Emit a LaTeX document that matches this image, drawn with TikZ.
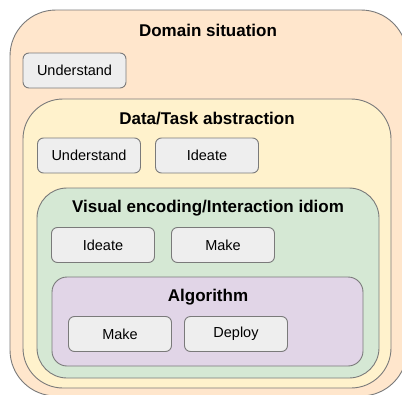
\documentclass[tikz,border=0pt]{standalone}
\usepackage{fontspec}
\setmainfont{Liberation Sans}
\definecolor{peach}{HTML}{FFE6CC}
\definecolor{lyellow}{HTML}{FFF2CC}
\definecolor{lgreen}{HTML}{D5E8D4}
\definecolor{lpurple}{HTML}{E1D5E7}
\definecolor{boxfill}{HTML}{EEEEEE}
\definecolor{edge}{HTML}{7A7A7A}
\tikzset{
  container/.style={draw=edge, line width=0.9pt},
  ctitle/.style={inner sep=0pt, font=\fontsize{17}{20}\selectfont\bfseries},
  stepbox/.style={draw=edge, line width=0.9pt, fill=boxfill, rounded corners=6pt,
    minimum width=103pt, minimum height=35pt, inner sep=0pt,
    font=\fontsize{14.5}{17}\selectfont}
}
\begin{document}
\begin{tikzpicture}[x=1pt,y=-1pt]
\useasboundingbox (0,0) rectangle (402,394);
\fill[white] (0,0) rectangle (402,394);
% containers
\draw[container, fill=peach, rounded corners=46pt] (10,10) rectangle (407,396);
\node[ctitle] (domain) at (208,30) {Domain situation};
\node[stepbox] (und1) at (74.5,70.5) {Understand};

\draw[container, fill=lyellow, rounded corners=40pt] (23,99) rectangle (391,388);
\node[ctitle] (data) at (207,119) {Data/Task abstraction};
\node[stepbox] (und2) at (89,155.5) {Understand};
\node[stepbox] (ide1) at (207,155.5) {Ideate};

\draw[container, fill=lgreen, rounded corners=30pt] (37,188) rectangle (379,378);
\node[ctitle] (visual) at (208,208) {Visual encoding/Interaction idiom};
\node[stepbox] (ide2) at (103,245) {Ideate};
\node[stepbox] (mak1) at (223,245) {Make};

\draw[container, fill=lpurple, rounded corners=15pt] (52,277) rectangle (363,366);
\node[ctitle] (algo) at (208,297) {Algorithm};
\node[stepbox] (mak2) at (120,334) {Make};
\node[stepbox] (dep) at (236,334) {Deploy};
\end{tikzpicture}
\end{document}
